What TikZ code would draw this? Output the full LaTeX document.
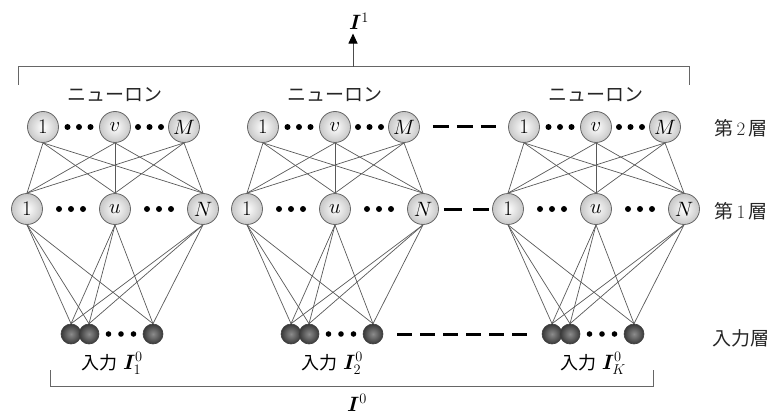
\documentclass[tikz,border=0pt]{standalone}
\usepackage{fontspec}
\usepackage{bm}
\newfontfamily\jp{Noto Sans CJK JP}
\usetikzlibrary{arrows.meta,calc,backgrounds}

\tikzset{
  neuron/.style={circle, minimum size=31pt, inner sep=0pt, draw=black!60, line width=0.8pt,
    inner color=white, outer color=black!22, font=\fontsize{22}{24}\selectfont},
  inp/.style={circle, minimum size=20pt, inner sep=0pt, draw=black!75, line width=0.6pt,
    inner color=black!45, outer color=black!78},
  wire/.style={draw=black!65, line width=0.7pt},
  gap/.style={draw=black, line width=3pt},
  bracket/.style={draw=black!60, line width=1pt},
  jplabel/.style={font=\jp\fontsize{19}{22}\selectfont, text=black!85},
  sidelabel/.style={font=\fontsize{19}{22}\selectfont, text=black!85},
  vec/.style={font=\fontsize{21}{24}\selectfont},
  arr/.style={draw=black!70, line width=1pt, -{Triangle[width=9pt,length=10pt,color=black]}},
}

\begin{document}
\begin{tikzpicture}[x=1pt,y=-1pt]
\useasboundingbox (0,0) rectangle (775,414);

% three modules: second layer, first layer and inputs
\foreach \m/\cx/\k in {a/115/1, b/335/2, c/596/K} {
  \node[neuron] (\m-t1) at (\cx-72,127) {$1$};
  \node[neuron] (\m-tv) at (\cx,127) {$v$};
  \node[neuron] (\m-tM) at (\cx+69,127) {$M$};
  \node[neuron] (\m-b1) at (\cx-88,209) {$1$};
  \node[neuron] (\m-bu) at (\cx,209) {$u$};
  \node[neuron] (\m-bN) at (\cx+88,209) {$N$};
  \node[inp] (\m-i1) at (\cx-44,334) {};
  \node[inp] (\m-i2) at (\cx-26,334) {};
  \node[inp] (\m-i3) at (\cx+38,334) {};
  \node[jplabel] (\m-head) at (\cx,95) {ニューロン};
  \node[vec, anchor=base] (\m-lab) at (\cx-3,369) {{\jp\fontsize{18}{20}\selectfont 入力}\;$\bm{I}^0_{\k}$};
  % fully connected wiring
  \begin{scope}[on background layer]
    \foreach \s in {t1,tv,tM}
      \foreach \d in {b1,bu,bN}
        \draw[wire] (\m-\s.south) -- (\m-\d.north);
    \foreach \s in {b1,bu,bN}
      \foreach \d in {i1,i2,i3}
        \draw[wire] (\m-\s.south) -- (\m-\d.north);
  \end{scope}
  % ellipsis dots
  \foreach \f in {-1,0,1} {
    \fill ($(\m-t1)!.5!(\m-tv)$) ++(\f*11.5,0) circle[radius=3];
    \fill ($(\m-tv)!.5!(\m-tM)$) ++(\f*11.5,0) circle[radius=3];
    \fill ($(\m-b1)!.5!(\m-bu)$) ++(\f*12,0) circle[radius=3];
    \fill ($(\m-bu)!.5!(\m-bN)$) ++(\f*12,0) circle[radius=3];
    \fill ($(\m-i2)!.5!(\m-i3)$) ++(\f*12.5,0) circle[radius=2.8];
  }
}

% module gaps
\draw[gap, dash pattern=on 16pt off 8pt, shorten <=13pt, shorten >=12pt] (b-tM) -- (c-t1);
\draw[gap, dash pattern=on 18pt off 11pt, shorten <=5pt, shorten >=3pt] (b-bN) -- (c-b1);
\draw[gap, dash pattern=on 15pt off 8pt, shorten <=14pt, shorten >=12pt] (b-i3) -- (c-i1);

% layer names
\node[sidelabel] (lay2) at (741,128) {{\jp 第}\,2\,{\jp 層}};
\node[sidelabel] (lay1) at (741,211) {{\jp 第}\,1\,{\jp 層}};
\node[jplabel] (lay0) at (741,338) {入力層};

% output bracket and arrow
\coordinate (tl) at (18,85);
\coordinate (tr) at (689,85);
\draw[bracket] (tl) -- (18,67) -- (689,67) -- (tr);
\node[vec, anchor=base] (out) at (359,30) {$\bm{I}^1$};
\coordinate (foot) at (353,67);
\draw[arr] (foot) -- (foot |- out.south);

% input bracket
\coordinate (bl) at (50,370);
\coordinate (br) at (653,370);
\draw[bracket] (bl) -- (50,386) -- (653,386) -- (br);
\node[vec, anchor=base] (in0) at (357,411) {$\bm{I}^0$};
\end{tikzpicture}
\end{document}
